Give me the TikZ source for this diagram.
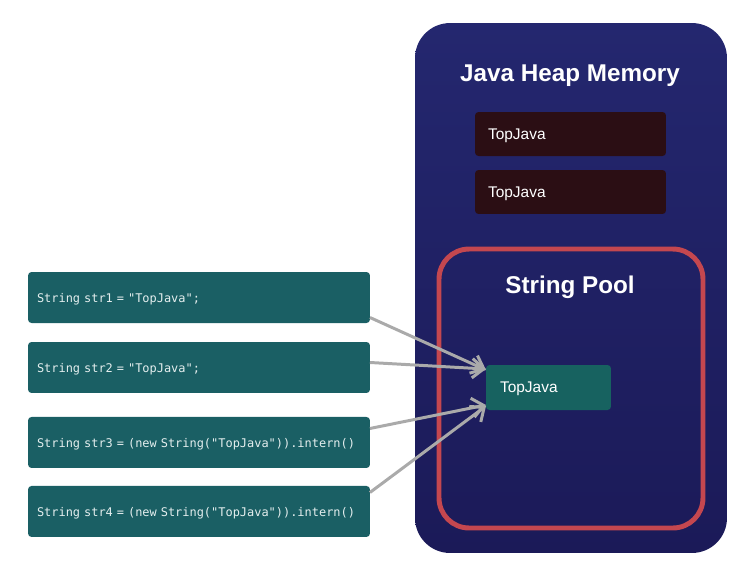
\documentclass[tikz,border=0pt]{standalone}
\usepackage{fontspec}
\setmainfont{Liberation Sans}
\setmonofont{DejaVu Sans Mono}
\usetikzlibrary{calc, positioning, arrows.meta}
\definecolor{heaptop}{RGB}{36,39,111}
\definecolor{heapbot}{RGB}{27,26,88}
\definecolor{objbg}{RGB}{43,14,20}
\definecolor{poolred}{RGB}{196,71,79}
\definecolor{tealobj}{RGB}{23,98,96}
\definecolor{codebg}{RGB}{26,95,100}
\definecolor{refgray}{RGB}{170,170,170}
\definecolor{codetxt}{RGB}{228,238,238}

\begin{document}
\begin{tikzpicture}[
        x=0.02cm, y=-0.02cm,
        heap/.style={
            rectangle, top color=heaptop, bottom color=heapbot, draw=none,
            minimum width=6.24cm, minimum height=10.6cm,
            rounded corners=0.7cm, outer sep=0pt
        },
        pool/.style={
            rectangle, draw=poolred, line width=2.8pt,
            minimum width=5.28cm, minimum height=5.58cm,
            rounded corners=0.6cm, outer sep=0pt
        },
        heading/.style={
            text=white, font=\bfseries\fontsize{13.8}{16}\selectfont,
            text depth=0pt
        },
        objbox/.style={
            rectangle, fill=objbg, text=white, rounded corners=2pt,
            minimum width=3.82cm, minimum height=0.88cm,
            text width=3.3cm, inner xsep=0.26cm, align=left,
            text depth=0pt,
            font=\fontsize{8.8}{10}\selectfont, outer sep=0pt
        },
        poolobj/.style={
            objbox, fill=tealobj,
            minimum width=2.5cm, minimum height=0.9cm,
            text width=1.94cm, inner xsep=0.28cm
        },
        codebox/.style={
            rectangle, fill=codebg, text=codetxt, rounded corners=2pt,
            minimum width=6.84cm, minimum height=1.02cm,
            text width=6.48cm, inner xsep=0.18cm, align=left,
            text depth=0pt,
            font=\ttfamily\fontsize{6.8}{8}\selectfont, outer sep=0pt
        },
        ref/.style={draw=refgray, line width=1.7pt,
            -{Straight Barb[length=6.5pt, width=11pt, line width=1.7pt]}}
    ]

    \useasboundingbox (0,0) rectangle (750,576);

    % heap
    \node [heap] (heap) at (571,288) {};
    \node [heading] (heaptitle) at (570,73) {Java Heap Memory};

    \node [objbox] (obj1) at (570.5,134) {TopJava};
    \node [objbox, below=0.28cm of obj1] (obj2) {TopJava};

    % string pool
    \node [pool] (pool) at (571,388.5) {};
    \node [heading] (pooltitle) at (570,285) {String Pool};
    \node [poolobj] (tj) at (548.5,387.5) {TopJava};

    % code
    \node [codebox] (c1) at (199,297.5) {String str1 = "TopJava";};
    \node [codebox, below=0.38cm of c1] (c2) {String str2 = "TopJava";};
    \node [codebox, below=0.48cm of c2] (c3) {String str3 = (new String("TopJava")).intern()};
    \node [codebox, below=0.36cm of c3] (c4) {String str4 = (new String("TopJava")).intern()};

    \draw [ref] ($(c1.east)+(0,20)$) -- ($(tj.north west)+(0,5)$);
    \draw [ref] ($(c2.east)+(0,-5)$) -- ($(tj.north west)+(0,4)$);
    \draw [ref] ($(c3.east)+(0,-14)$) -- ($(tj.south west)+(0,-5)$);
    \draw [ref] ($(c4.east)+(0,-19)$) -- ($(tj.south west)+(0,-4)$);

\end{tikzpicture}
\end{document}
